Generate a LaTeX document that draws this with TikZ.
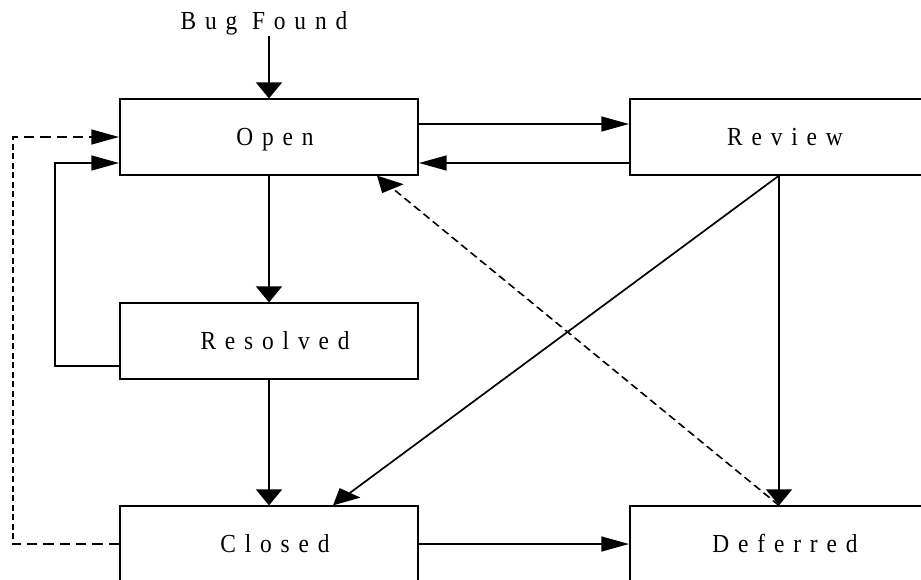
\documentclass[tikz,border=0pt]{standalone}
\usepackage{fontspec}
\setmainfont{Liberation Serif}
\newfontfamily\lblfont[FakeStretch=0.9,LetterSpace=34]{Liberation Serif}
\usetikzlibrary{arrows.meta,calc}

% The drawing is made in a horizontally compressed frame and then stretched
% back by the canvas; labels are pre-compressed so they come out undistorted.
\newcommand\xstretch{1.72}
\newcommand\lbl[1]{\scalebox{0.581395}[1]{\hspace{12pt}#1}}

\tikzset{
  state/.style={draw, line width=1.2pt, inner sep=0pt,
    minimum width=173.26pt, minimum height=76pt,
    text height=16pt, text depth=0pt,
    font=\lblfont\fontsize{26}{30}\selectfont},
  tag/.style={inner sep=1pt, font=\lblfont\fontsize{26}{30}\selectfont},
  flow/.style={line width=1.3pt, -{Triangle[length=16pt,width=15pt]}},
  back/.style={flow, line width=1.2pt, dash pattern=on 6pt off 3.5pt},
}

\begin{document}
\begin{tikzpicture}
  \path[use as bounding box] (0,0) rectangle (921pt,-579pt);
  \fill[white] (0,0) rectangle (921pt,-579pt);
  \clip (0,0) rectangle (921pt,-579pt);
  \begin{scope}[transform canvas={xscale=\xstretch}, x=0.581395pt, y=-1pt]
    % states
    \node[state] (open)     at (269,137) {\lbl{Open}};
    \node[state] (review)   at (779,137) {\lbl{Review}};
    \node[state] (resolved) at (269,341) {\lbl{Resolved}};
    \node[state] (closed)   at (269,544) {\lbl{Closed}};
    \node[state] (deferred) at (779,544) {\lbl{Deferred}};
    \node[tag, anchor=base] (bug) at (258,29) {\lbl{Bug Found}};

    % transitions
    \draw[flow] (open.north |- bug.south) -- (open.north);
    \draw[flow] ($(open.east)+(0,-13)$) -- ($(review.west)+(0,-13)$);
    \draw[flow] ($(review.west)+(0,26)$) -- ($(open.east)+(0,26)$);
    \draw[flow] (open.south) -- (resolved.north);
    \draw[flow] (resolved.south) -- (closed.north);
    \draw[flow] (review.south) -- (deferred.north);
    \draw[flow] (review.south) -- ($(closed.north)+(64,0)$);
    \draw[back] (deferred.north) -- ($(open.south)+(108,0)$);
    \draw[flow] ($(resolved.west)+(0,25)$) -- ++(-64,0) |- ($(open.west)+(0,26)$);
    \draw[back] (closed.west) -- ++(-106,0) |- (open.west);
    \draw[flow] (closed.east) -- (deferred.west);
  \end{scope}
\end{tikzpicture}
\end{document}
